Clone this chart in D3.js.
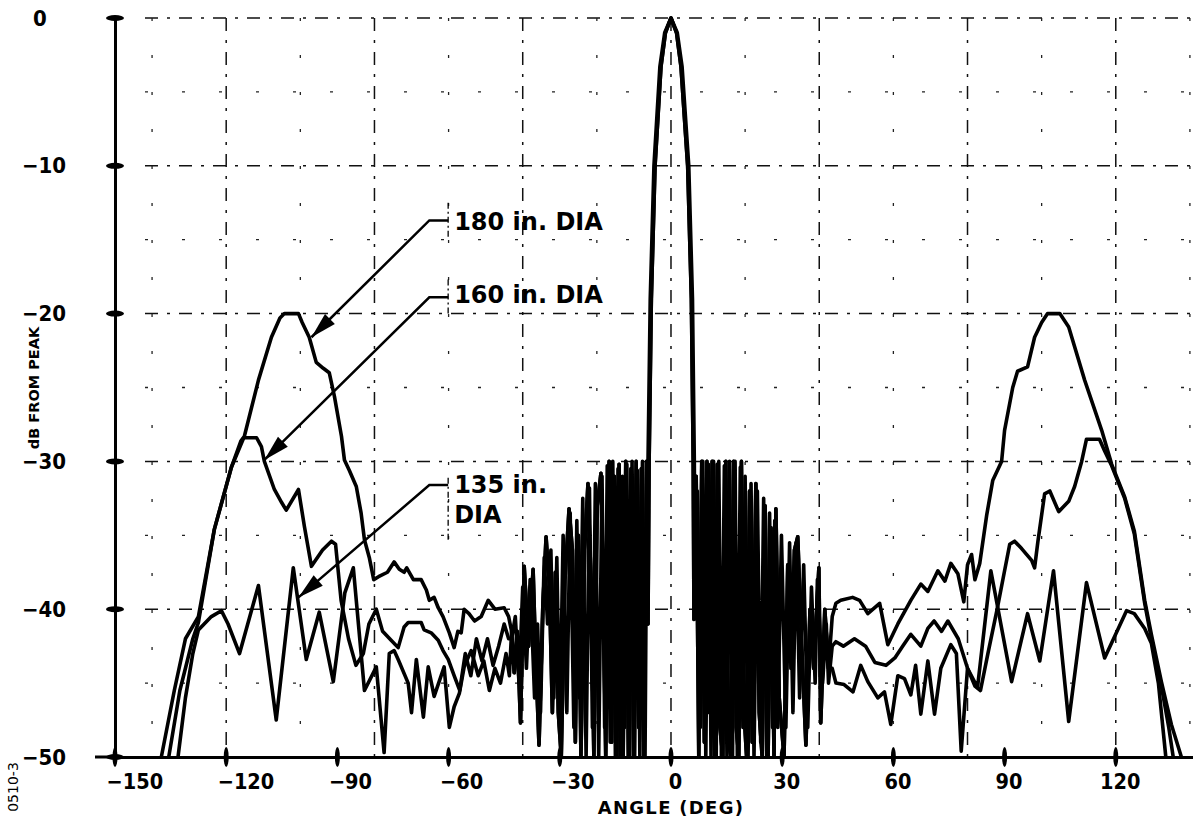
<!DOCTYPE html>
<html>
<head>
<meta charset="utf-8">
<script src="https://cdn.jsdelivr.net/npm/d3@7"></script>
<style>
body { margin: 0; background: #fff; }
svg { display: block; }
</style>
</head>
<body>
<script>
// axis ticks and grid
var yTicks = [0, -10, -20, -30, -40, -50];
var xTicks = [-150, -120, -90, -60, -30, 0, 30, 60, 90, 120];
var gridX = [-120, -80, -40, 0, 40, 80, 120];
var gridY = [0, -10, -20, -30, -40];
var minorX = [-140, -100, -60, -20, 20, 60, 100, 140];
var minorY = [-5, -15, -25, -35, -45];

// main lobe + near-in sidelobes [angle, dB], as traced for the 180/135 in. runs
var nearIn = [
    [-43.0,-41.5],[-42.3,-44.3],[-41.5,-41.5],[-40.6,-47.7],[-39.6,-37.1],[-38.4,-42.5],[-37.2,-37.3],
    [-36.4,-44],[-35.6,-49.2],[-34.6,-40],[-33.7,-35.1],[-32.8,-38.5],[-32.0,-47],[-31.2,-37.5],
    [-30.4,-47],[-29.6,-50],[-28.6,-38],[-27.5,-33.2],[-26.6,-36],[-25.8,-49],[-25.0,-35],[-24.3,-50],
    [-23.3,-36],[-22.4,-31.5],[-21.6,-38],[-20.8,-50],[-19.9,-33],[-18.9,-30.8],[-18.2,-40],[-17.6,-50],
    [-16.7,-30],[-16.0,-49],[-15.3,-31],[-14.6,-50],[-14.0,-30.2],[-13.4,-48],[-12.9,-50],[-12.2,-30],
    [-11.5,-50],[-10.8,-30.5],[-10.1,-50],[-9.4,-30],[-8.7,-48],[-8.0,-30.5],[-7.3,-50],[-6.6,-30],
    [-6.2,-41],[-5.9,-30],[-5.3,-19],[-4.3,-10],[-2.7,-3.3],[-1.5,-1],[0,0],[1.5,-1],[2.7,-3.3],
    [4.5,-10],[5.5,-19],[6.0,-30],[6.2,-40.7],[6.8,-31],[7.5,-50],[8.3,-30],[9.0,-49],[9.7,-30],
    [10.4,-47],[11.1,-30],[11.8,-50],[12.5,-30.2],[13.2,-48],[14.0,-50],[14.8,-30],[15.5,-49],
    [16.2,-50],[16.9,-30],[17.6,-48],[18.3,-50],[19.0,-30],[19.7,-47],[20.4,-50],[21.2,-32],
    [21.9,-49],[22.9,-31.5],[23.8,-47],[24.6,-50],[25.4,-33],[26.2,-50],[27.0,-34.5],[27.8,-50],
    [28.3,-33.2],[29.2,-46],[30.5,-50],[31.5,-37],[32.4,-44],[33.3,-36],[34.2,-35.1],[35.2,-42],
    [36.4,-49.2],[37.5,-40],[38.5,-44],[39.9,-37.2],[40.4,-47.7],[41.5,-40],[42.5,-44]
];

// the 160 in. run: lobes fall between those above
var nearInB = [
    [-43.0,-42],[-42.0,-40.5],[-41.0,-45],[-40.0,-38.5],[-39.0,-44],[-38.0,-38],[-36.8,-46],[-36.0,-41],
    [-35.2,-47],[-34.2,-36.5],[-33.3,-41],[-32.4,-36],[-31.6,-46],[-30.8,-36.5],[-30.0,-48],[-29.1,-35],
    [-28.1,-47],[-27.2,-33.5],[-26.2,-48],[-25.4,-34],[-24.7,-46],[-23.8,-32.5],[-22.9,-50],[-22.0,-31.8],
    [-21.2,-48],[-20.4,-31.5],[-19.5,-50],[-18.6,-31],[-17.9,-48],[-17.2,-30.3],[-16.4,-49],[-15.7,-30],
    [-15.0,-50],[-14.3,-30.5],[-13.7,-50],[-13.1,-31],[-12.5,-48],[-11.9,-30.2],[-11.2,-50],[-10.5,-30],
    [-9.8,-50],[-9.1,-30.6],[-8.4,-50],[-7.7,-30],[-7.0,-50],[-6.6,-35],[-6.4,-41],
    [-6.2,-30],[-5.6,-19],[-4.6,-10],[-3.0,-3.3],[-1.7,-1],[0,0],[1.7,-1],[3.0,-3.3],[4.8,-10],
    [5.8,-19],[6.3,-30],[6.5,-40.5],
    [7.1,-32],[7.9,-48],[8.6,-30],[9.4,-50],[10.1,-30.2],[10.8,-50],[11.5,-30],[12.2,-50],[12.9,-30],
    [13.6,-50],[14.4,-30.3],[15.1,-50],[15.8,-30],[16.6,-50],[17.3,-30],[17.9,-50],[18.7,-30.4],
    [19.4,-48],[20.0,-31],[20.8,-50],[21.6,-31.5],[22.4,-50],[23.3,-32],[24.2,-49],[25.0,-32.5],
    [25.8,-50],[26.6,-33.5],[27.4,-48],[28.0,-34],[28.8,-48],[29.8,-35],[31.0,-48],[32.0,-35.5],
    [32.9,-47],[33.8,-35.5],[34.7,-46],[35.8,-37],[36.9,-48],[37.9,-38.5],[38.9,-45],[39.5,-38],
    [40.9,-45],[41.9,-41],[42.5,-45]
];

// wide-angle parts of each pattern
var dia180Left = [
    [-137.5,-50],[-134,-45.5],[-131,-42],[-127.5,-40.5],[-123.2,-34.6],[-118.6,-30.4],[-115.1,-28.3],
    [-111.3,-24.5],[-107.8,-21.6],[-105.5,-20.3],[-104.3,-20],[-100.5,-20],[-99.5,-20.6],[-97.6,-21.6],
    [-95.7,-23.3],[-93.8,-23.7],[-92.2,-24],[-90.8,-25.6],[-88.9,-28.3],[-88.1,-29.9],[-86.8,-30.6],
    [-84.9,-31.7],[-83.6,-33.5],[-82.7,-35.3],[-81.4,-36.5],[-80.2,-38],[-78.9,-37.8],[-76.5,-37.5],
    [-74.7,-36.8],[-73.3,-37.3],[-72,-37.5],[-71.3,-37.2],[-69.5,-38],[-67.4,-38],[-66,-38.7],
    [-65.2,-39.4],[-63.9,-39.2],[-62.8,-39.9],[-61.5,-40.5],[-59.8,-41.6],[-58.5,-42.6],[-57.5,-41.5],
    [-56.6,-41.6],[-55.8,-40],[-54.5,-40.3],[-53,-40.8],[-51.2,-40.5],[-49.3,-39.4],[-47.5,-40],
    [-45,-39.9],[-43.8,-40.5]
];
var dia180Right = [
    [43.5,-40.5],[44.5,-39.6],[45.8,-39.4],[49,-39.2],[50.9,-39.4],[53.1,-40.3],[56.3,-39.6],
    [58.5,-42.4],[61.2,-41],[64.7,-39.4],[67.4,-38.3],[69.3,-38.8],[72,-37.4],[73.9,-38.1],
    [75.5,-36.9],[77.4,-37.6],[79,-39.5],[80,-37],[81.1,-36.3],[82,-38],[83.3,-36.9],[85.2,-33.6],
    [86.8,-31.3],[89.2,-30],[90,-27.9],[92.2,-25],[93.5,-23.9],[96.2,-23.6],[98.1,-21.6],[100,-20.6],
    [101.6,-20],[104.9,-20],[107.3,-20.9],[111.6,-24.5],[116.2,-27.9],[118.9,-30.2],[122.4,-32.4],
    [125,-34.7],[127.8,-39.4],[129.6,-41.7],[132.3,-44.9],[135,-47.8],[137.7,-50]
];
var dia160Left = [
    [-135.5,-50],[-132.5,-45.5],[-129,-42],[-127.5,-40.9],[-123.2,-34.6],[-118.6,-30.4],[-116,-28.6],
    [-115.4,-28.4],[-111.8,-28.4],[-110.5,-29],[-109.7,-30],[-107,-31.9],[-105,-32.8],[-103.8,-33.3],
    [-100.5,-31.9],[-98.9,-34.4],[-97,-37.1],[-94,-36],[-91.6,-35.4],[-90.5,-35.6],[-89,-39.4],
    [-87,-42],[-85,-43.8],[-83,-43],[-81.5,-41],[-79.5,-40],[-77.8,-41.5],[-75.5,-42.1],[-73.6,-42.6],
    [-72,-41.2],[-70.9,-40.9],[-67.4,-40.9],[-66.6,-41.4],[-64.7,-41.6],[-62.8,-42.1],[-61.5,-42.8],
    [-60.1,-43.4],[-58.5,-44.5],[-57,-45.5],[-55.5,-43],[-54,-44.5],[-52.5,-42],[-51,-43.5],
    [-49.5,-42],[-48,-43.8],[-46.5,-42.5],[-45,-41],[-43.8,-42]
];
var dia160Right = [
    [43.5,-42.5],[44.5,-42.2],[46.5,-42.5],[49.5,-42],[52.5,-42.5],[55,-43.6],[58,-43.8],[60.4,-43.3],
    [62.5,-42.5],[64.7,-41.7],[67.4,-42.5],[69.3,-41.3],[71,-40.8],[73,-41.5],[74.7,-40.8],[77.5,-42],
    [80,-44],[82,-45.2],[83.5,-45.5],[85.5,-43],[88,-40],[90,-37.4],[91.4,-35.6],[92.7,-35.4],
    [94.6,-35.9],[97.3,-36.7],[98.1,-37.2],[99,-35.4],[100.8,-32.2],[102.2,-32],[104.6,-33.4],
    [107.3,-32.7],[108.9,-31.7],[110.8,-30],[112.1,-28.5],[115.6,-28.5],[117,-29.3],[118.9,-30.3],
    [122.4,-32.5],[125,-34.9],[127.8,-39.6],[129.6,-42],[132.3,-45.2],[134.3,-48],[135.5,-50]
];
var dia135Left = [
    [-133,-50],[-131,-46],[-129,-43],[-127.5,-41.4],[-124,-40.5],[-121.3,-40.1],[-119.5,-41],
    [-116.4,-43],[-111.3,-38.4],[-106.5,-47.5],[-101.9,-37.2],[-98.4,-43.4],[-94.9,-40.2],[-91.1,-44.9],
    [-88,-38.9],[-85.7,-37.2],[-82.7,-45.5],[-79.5,-43.9],[-77.4,-49.7],[-76,-43],[-74.7,-42.8],
    [-73.6,-43.4],[-70.9,-45],[-70,-47],[-68.7,-43.4],[-66.8,-47.3],[-65.5,-43.9],[-63.9,-45.9],
    [-61.2,-43.9],[-59.8,-48],[-58.5,-46.6],[-57.1,-45.7],[-55.8,-43.9],[-53.9,-42.8],[-52,-44.5],
    [-50.5,-43.5],[-49,-45.5],[-47.5,-44],[-46,-45],[-44.5,-43],[-43.6,-44.5]
];
var dia135Right = [
    [43.5,-44],[44.5,-45],[46.7,-45.1],[49.1,-45.6],[51.2,-43.8],[53.1,-44.9],[55.8,-46],[57.6,-45.6],
    [59.3,-47.8],[61.2,-44.5],[63,-44.7],[64.7,-45.8],[66,-43.8],[67.4,-47.1],[69.3,-43.5],[71.1,-47.1],
    [72.8,-44],[75.5,-42.4],[77,-43],[78.3,-49.6],[80,-44],[82.7,-45.3],[86.3,-37.4],[91.9,-44.9],
    [96.2,-40.3],[99.5,-43.5],[103.2,-37.4],[107.3,-47.6],[112.1,-38.2],[117,-43.3],[122.9,-40.1],
    [125,-40.3],[127.8,-41.3],[129.6,-42.3],[131.5,-45],[132.5,-47.5],[133.5,-50]
];

var series = [
    { name: "180 in. DIA", values: dia180Left.concat(nearIn, dia180Right) },
    { name: "160 in. DIA", values: dia160Left.concat(nearInB, dia160Right) },
    { name: "135 in. DIA", values: dia135Left.concat(nearIn, dia135Right) }
];

// callouts: label lines, elbow, bracket and arrow tip in data units
var callouts = [
    { lines: ["180 in. DIA"], text: [-58.5, -14.34], elbow: [-65.2, -13.7], bracket: [-12.5, -14.8], tip: [-97.0, -21.6] },
    { lines: ["160 in. DIA"], text: [-58.5, -19.28], elbow: [-65.2, -18.9], bracket: [-17.7, -20.1], tip: [-109.7, -29.9] },
    { lines: ["135 in.", "DIA"], text: [-58.5, -32.14], elbow: [-65.2, -31.6], bracket: [-31.1, -35.3], tip: [-100.5, -39.2] }
];

var margin = { left: 115, right: 1.5, top: 18, bottom: 60 };
var width = 1194 - margin.left - margin.right;
var height = 817 - margin.top - margin.bottom;

var x = d3.scaleLinear().domain([-150, 140.7]).range([0, width]);
var y = d3.scaleLinear().domain([-50, 0]).range([height, 0]);

var svg = d3.select("body").append("svg")
    .attr("width", 1194)
    .attr("height", 817)
    .style("background", "#fff");

var g = svg.append("g")
    .attr("transform", "translate(" + margin.left + "," + margin.top + ")");

// grid (dash-dot plotter paper)
g.selectAll(".gridx").data(gridX).enter().append("line")
    .attr("x1", function (d) { return x(d); })
    .attr("x2", function (d) { return x(d); })
    .attr("y1", 0).attr("y2", height)
    .attr("stroke", "#111").attr("stroke-width", 1.5)
    .attr("stroke-dasharray", "13,9,3,9");

g.selectAll(".gridy").data(gridY).enter().append("line")
    .attr("x1", 30).attr("x2", width)
    .attr("y1", function (d) { return y(d); })
    .attr("y2", function (d) { return y(d); })
    .attr("stroke", "#111").attr("stroke-width", 1.5)
    .attr("stroke-dasharray", "13,9,3,9");

g.selectAll(".minorx").data(minorX).enter().append("line")
    .attr("x1", function (d) { return x(d); })
    .attr("x2", function (d) { return x(d); })
    .attr("y1", 0).attr("y2", height)
    .attr("stroke", "#222").attr("stroke-width", 1.3)
    .attr("stroke-dasharray", "3,34");

g.selectAll(".minory").data(minorY).enter().append("line")
    .attr("x1", 30).attr("x2", width)
    .attr("y1", function (d) { return y(d); })
    .attr("y2", function (d) { return y(d); })
    .attr("stroke", "#222").attr("stroke-width", 1.3)
    .attr("stroke-dasharray", "3,34");

// curves
var line = d3.line()
    .x(function (d) { return x(d[0]); })
    .y(function (d) { return y(d[1]); });

g.selectAll(".pattern").data(series).enter().append("path")
    .attr("class", "pattern")
    .attr("d", function (d) { return line(d.values); })
    .attr("fill", "none")
    .attr("stroke", "#000")
    .attr("stroke-width", 3.6)
    .attr("stroke-linejoin", "round");

// axes
var tickFont = "'DejaVu Sans Condensed', 'DejaVu Sans', sans-serif";

var yAxis = g.append("g")
    .call(d3.axisLeft(y).tickValues(yTicks).tickSize(0).tickSizeOuter(0).tickFormat(d3.format("d")));
yAxis.select(".domain").attr("stroke", "#000").attr("stroke-width", 3);
yAxis.selectAll("text")
    .attr("text-anchor", "start")
    .attr("x", function (d) { return (d < 0 ? 22 : 33) - margin.left; })
    .style("font-family", tickFont)
    .style("font-weight", "bold")
    .style("font-size", "22px")
    .attr("fill", "#000");

var xAxis = g.append("g")
    .attr("transform", "translate(0," + height + ")")
    .call(d3.axisBottom(x).tickValues(xTicks).tickSize(0).tickSizeOuter(0).tickFormat(d3.format("d")));
xAxis.select(".domain").attr("stroke", "#000").attr("stroke-width", 3);
xAxis.selectAll("text")
    .attr("text-anchor", function (d) { return d < 0 ? "start" : "middle"; })
    .attr("x", function (d) { return d < 0 ? -9 : 4; })
    .attr("y", 32)
    .attr("dy", 0)
    .style("font-family", tickFont)
    .style("font-weight", "bold")
    .style("font-size", "21.5px")
    .attr("fill", "#000");

// axis line runs a little past the vertical axis on the left
g.append("line")
    .attr("x1", -20).attr("x2", 0)
    .attr("y1", height).attr("y2", height)
    .attr("stroke", "#000").attr("stroke-width", 3);

// tick blobs
g.selectAll(".ytick").data(yTicks).enter().append("ellipse")
    .attr("cx", 0).attr("cy", function (d) { return y(d); })
    .attr("rx", 9).attr("ry", 3).attr("fill", "#000");
g.selectAll(".xtick").data(xTicks).enter().append("ellipse")
    .attr("cx", function (d) { return x(d); }).attr("cy", height)
    .attr("rx", 2.5).attr("ry", 10).attr("fill", "#000");

// axis titles
svg.append("text")
    .attr("transform", "translate(39,388) rotate(-90)")
    .attr("text-anchor", "middle")
    .style("font-family", "'DejaVu Sans', sans-serif")
    .style("font-weight", "bold")
    .style("font-size", "14.5px")
    .text("dB FROM PEAK");

svg.append("text")
    .attr("x", margin.left + x(0))
    .attr("y", 814)
    .attr("text-anchor", "middle")
    .style("font-family", "'DejaVu Sans', sans-serif")
    .style("font-weight", "bold")
    .style("font-size", "18px")
    .style("letter-spacing", "1.3px")
    .text("ANGLE (DEG)");

svg.append("text")
    .attr("transform", "translate(18,787) rotate(-90)")
    .attr("text-anchor", "middle")
    .style("font-family", "'DejaVu Sans', sans-serif")
    .style("font-size", "14px")
    .text("0510-3");

// callouts
var ann = g.selectAll(".callout").data(callouts).enter().append("g").attr("class", "callout");

ann.append("line")
    .attr("x1", function (d) { return x(d.text[0]) - 6; })
    .attr("x2", function (d) { return x(d.text[0]) - 6; })
    .attr("y1", function (d) { return y(d.bracket[0]); })
    .attr("y2", function (d) { return y(d.bracket[1]); })
    .attr("stroke", "#000").attr("stroke-width", 1.3)
    .attr("stroke-dasharray", "6,3,2,3");

ann.append("polyline")
    .attr("points", function (d) {
        return [[x(d.text[0]) - 6, y(d.elbow[1])], [x(d.elbow[0]), y(d.elbow[1])], [x(d.tip[0]), y(d.tip[1])]]
            .map(function (p) { return p.join(","); }).join(" ");
    })
    .attr("fill", "none").attr("stroke", "#000").attr("stroke-width", 2.5);

ann.append("path")
    .attr("d", function (d) {
        var tx = x(d.tip[0]), ty = y(d.tip[1]);
        var dx = x(d.elbow[0]) - tx, dy = y(d.elbow[1]) - ty;
        var len = Math.sqrt(dx * dx + dy * dy);
        var ux = dx / len, uy = dy / len;
        var bx = tx + ux * 26, by = ty + uy * 26;
        return "M" + tx + "," + ty +
            "L" + (bx - uy * 7) + "," + (by + ux * 7) +
            "L" + (bx + uy * 7) + "," + (by - ux * 7) + "Z";
    })
    .attr("fill", "#000");

ann.each(function (d) {
    var t = d3.select(this);
    d.lines.forEach(function (s, i) {
        t.append("text")
            .attr("x", x(d.text[0]))
            .attr("y", y(d.text[1]) + i * 30)
            .style("font-family", "'DejaVu Sans', sans-serif")
            .style("font-weight", "bold")
            .style("font-size", "24px")
            .text(s);
    });
});
</script>
</body>
</html>
